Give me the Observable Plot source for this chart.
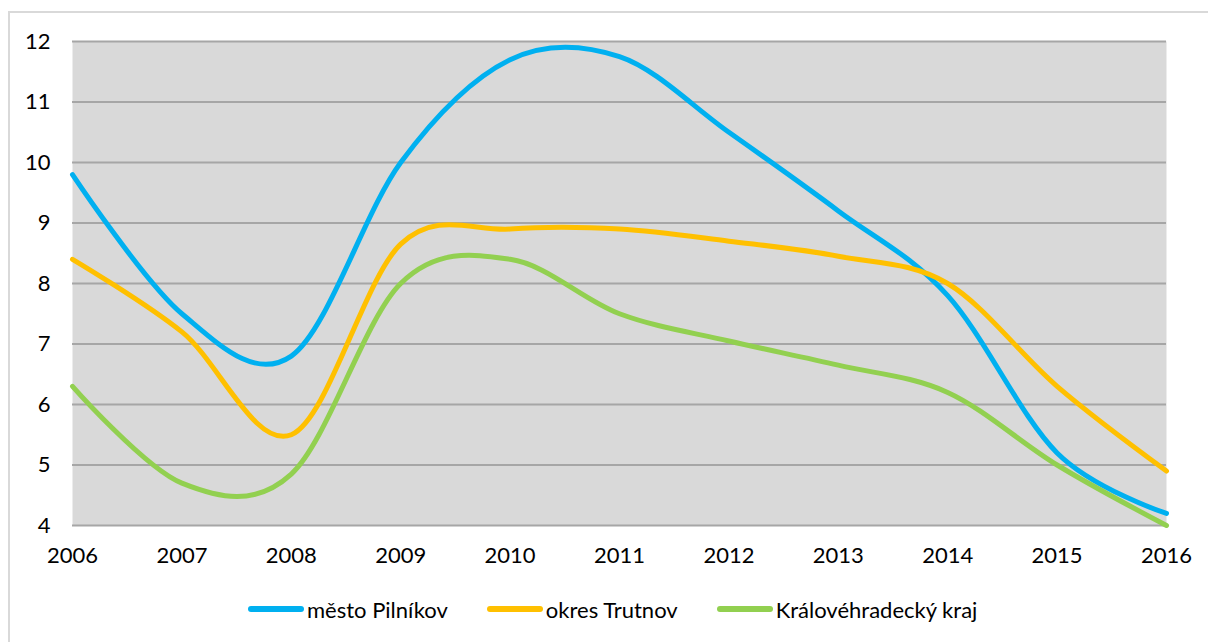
<!DOCTYPE html>
<html>
<head>
<meta charset="utf-8">
<script src="https://cdn.jsdelivr.net/npm/d3@7"></script>
<script src="https://cdn.jsdelivr.net/npm/@observablehq/plot@0.6"></script>
<style>
  html, body { margin: 0; padding: 0; background: #fff; width: 1208px; height: 642px; overflow: hidden; }
  #frame { position: absolute; left: 8px; top: 11px; width: 1260px; height: 700px; border: 2px solid #d9d9d9; box-sizing: border-box; }
  #chart { position: absolute; left: 0; top: 0; }
  #legend { position: absolute; left: 0; top: 594px; width: 1208px; height: 30px; display: flex; justify-content: flex-start; align-items: center; font-family: Lato, "Open Sans", sans-serif; font-size: 22px; color: #000; padding-left: 248px; box-sizing: border-box; }
  .item { display: flex; align-items: center; margin-right: 39px; }
  .sw { width: 56px; height: 6px; border-radius: 3px; margin-right: 3px; }
</style>
</head>
<body>
<div id="frame"></div>
<div id="chart"></div>
<div id="legend"></div>
<script>
const years = [2006, 2007, 2008, 2009, 2010, 2011, 2012, 2013, 2014, 2015, 2016];
const seriesNames = ["město Pilníkov", "okres Trutnov", "Královéhradecký kraj"];
const colors = ["#00b0f0", "#ffc000", "#92d050"];
const pilnikov = [9.8, 7.5, 6.8, 10.0, 11.7, 11.75, 10.5, 9.2, 7.8, 5.2, 4.2];
const trutnov = [8.4, 7.2, 5.5, 8.65, 8.9, 8.9, 8.7, 8.45, 8.0, 6.3, 4.9];
const kraj = [6.3, 4.7, 4.85, 8.0, 8.4, 7.5, 7.05, 6.65, 6.2, 5.0, 4.0];
const yTicks = [4, 5, 6, 7, 8, 9, 10, 11, 12];

const seriesValues = [pilnikov, trutnov, kraj];
const data = seriesNames.flatMap((name, s) =>
  years.map((year, i) => ({ year, value: seriesValues[s][i], series: name }))
);

const chart = Plot.plot({
  width: 1208,
  height: 570,
  marginTop: 41,
  marginLeft: 72,
  marginRight: 42,
  marginBottom: 45,
  style: { fontFamily: "Lato, 'Open Sans', sans-serif", fontSize: "22px", color: "#000", background: "transparent" },
  x: { domain: [2006, 2016], label: null },
  y: { domain: [4, 12], label: null },
  color: { domain: seriesNames, range: colors },
  marks: [
    Plot.frame({ fill: "#d9d9d9", stroke: null }),
    Plot.gridY(yTicks, { stroke: "#a6a6a6", strokeOpacity: 1, strokeWidth: 2 }),
    Plot.axisX(years, { tickSize: 0, tickPadding: 22, tickFormat: d => String(d), label: null, fill: "#000" }),
    Plot.axisY(yTicks, { tickSize: 0, tickPadding: 22, tickFormat: d => String(d), label: null, fill: "#000" }),
    Plot.line(data, { x: "year", y: "value", stroke: "series", z: "series", curve: "cardinal", strokeWidth: 5, strokeLinecap: "round", strokeLinejoin: "round" })
  ]
});
document.getElementById("chart").appendChild(chart);

const legend = document.getElementById("legend");
seriesNames.forEach((name, i) => {
  const item = document.createElement("div");
  item.className = "item";
  const sw = document.createElement("div");
  sw.className = "sw";
  sw.style.background = colors[i];
  const label = document.createElement("span");
  label.textContent = name;
  item.appendChild(sw);
  item.appendChild(label);
  legend.appendChild(item);
});
</script>
</body>
</html>
